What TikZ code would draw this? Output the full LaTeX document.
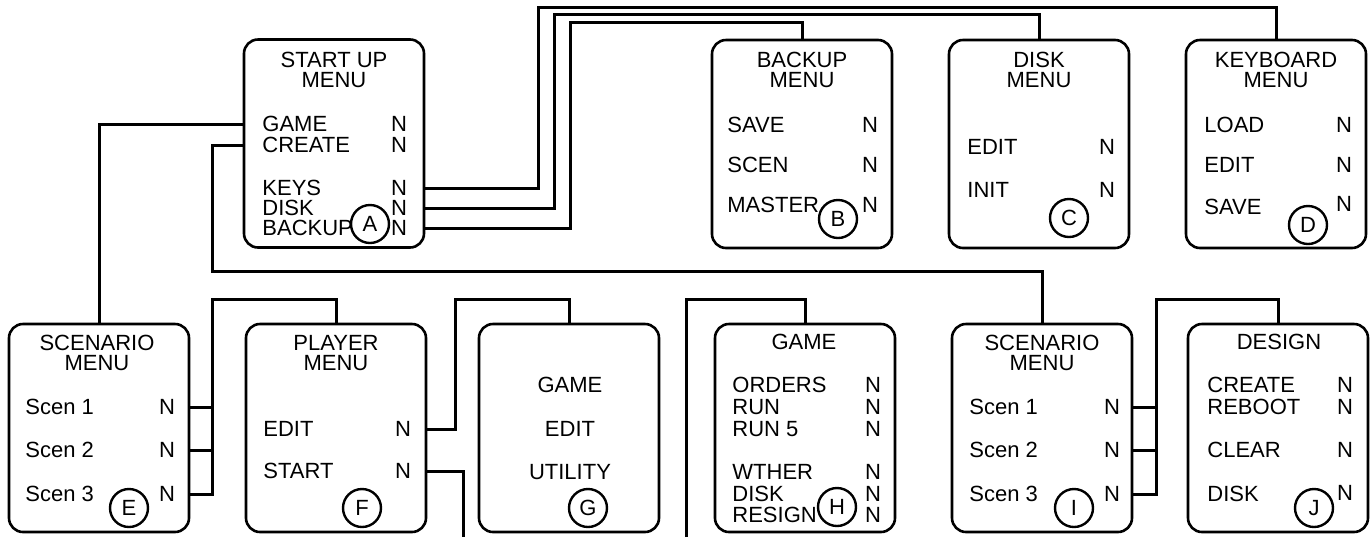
\documentclass[tikz,border=0pt]{standalone}
\usepackage{fontspec}
\setmainfont{Liberation Sans}
\begin{document}
\begin{tikzpicture}[x=0.5pt,y=-0.5pt,
  menubox/.style={draw, line width=1.3pt, rounded corners=7pt, minimum width=90pt, minimum height=104pt, inner sep=0pt},
  item/.style={anchor=west, inner sep=0pt, text height=7.8pt, text depth=0pt, font=\fontsize{11}{13}\selectfont},
  nval/.style={item, anchor=center},
  ttl/.style={item, anchor=center},
  tag/.style={draw, circle, line width=1.2pt, minimum size=19pt, inner sep=0pt, font=\fontsize{11}{13}\selectfont},
  wire/.style={line width=1.5pt}]
\useasboundingbox (0,0) rectangle (1372,537);

% ---------- top row ----------
\node[menubox] (A) at (334,143.5) {};
\node[ttl] (At1) at (334,60) {START UP};
\node[ttl] (At2) at (334,80) {MENU};
\node[item] (Ag) at (262,124) {GAME};   \node[nval] (AgN) at (399,124) {N};
\node[item] (Ac) at (262,145) {CREATE}; \node[nval] (AcN) at (399,145) {N};
\node[item] (Ak) at (262,188) {KEYS};   \node[nval] (AkN) at (399,188) {N};
\node[item] (Ad) at (262,208) {DISK};   \node[nval] (AdN) at (399,208) {N};
\node[item] (Ab) at (262,228) {BACKUP}; \node[nval] (AbN) at (399,228) {N};
\node[tag] (tA) at (370,224) {A};

\node[menubox] (B) at (802,144) {};
\node[ttl] (Bt1) at (802,60) {BACKUP};
\node[ttl] (Bt2) at (802,80) {MENU};
\node[item] (B1) at (727,125) {SAVE};   \node[nval] (B1N) at (870,125) {N};
\node[item] (B2) at (727,165) {SCEN};   \node[nval] (B2N) at (870,165) {N};
\node[item] (B3) at (727,205) {MASTER}; \node[nval] (B3N) at (870,205) {N};
\node[tag] (tB) at (838,219) {B};

\node[menubox] (C) at (1039,144) {};
\node[ttl] (Ct1) at (1039,60) {DISK};
\node[ttl] (Ct2) at (1039,80) {MENU};
\node[item] (C1) at (967,147) {EDIT}; \node[nval] (C1N) at (1107,147) {N};
\node[item] (C2) at (967,190) {INIT}; \node[nval] (C2N) at (1107,190) {N};
\node[tag] (tC) at (1069,218) {C};

\node[menubox] (D) at (1276,144) {};
\node[ttl] (Dt1) at (1276,60) {KEYBOARD};
\node[ttl] (Dt2) at (1276,80) {MENU};
\node[item] (D1) at (1204,125) {LOAD}; \node[nval] (D1N) at (1344,125) {N};
\node[item] (D2) at (1204,165) {EDIT}; \node[nval] (D2N) at (1344,165) {N};
\node[item] (D3) at (1204,207) {SAVE}; \node[nval] (D3N) at (1344,204) {N};
\node[tag] (tD) at (1308,225) {D};

% ---------- bottom row ----------
\node[menubox] (E) at (99,428) {};
\node[ttl] (Et1) at (97,343) {SCENARIO};
\node[ttl] (Et2) at (97,363) {MENU};
\node[item] (E1) at (25,407) {Scen 1}; \node[nval] (E1N) at (167,407) {N};
\node[item] (E2) at (25,450) {Scen 2}; \node[nval] (E2N) at (167,450) {N};
\node[item] (E3) at (25,494) {Scen 3}; \node[nval] (E3N) at (167,494) {N};
\node[tag] (tE) at (129,508) {E};

\node[menubox] (F) at (336,428) {};
\node[ttl] (Ft1) at (336,343) {PLAYER};
\node[ttl] (Ft2) at (336,363) {MENU};
\node[item] (F1) at (263,429) {EDIT};  \node[nval] (F1N) at (403,429) {N};
\node[item] (F2) at (263,471) {START}; \node[nval] (F2N) at (403,471) {N};
\node[tag] (tF) at (362,508) {F};

\node[menubox] (G) at (569,428) {};
\node[ttl] (G1) at (570,385) {GAME};
\node[ttl] (G2) at (570,429) {EDIT};
\node[ttl] (G3) at (570,472) {UTILITY};
\node[tag] (tG) at (588,508) {G};

\node[menubox] (H) at (805,428) {};
\node[ttl] (Ht1) at (804,342) {GAME};
\node[item] (H1) at (732,385) {ORDERS}; \node[nval] (H1N) at (873,385) {N};
\node[item] (H2) at (732,407) {RUN};    \node[nval] (H2N) at (873,407) {N};
\node[item] (H3) at (732,429) {RUN 5};  \node[nval] (H3N) at (873,429) {N};
\node[item] (H4) at (732,472) {WTHER};  \node[nval] (H4N) at (873,472) {N};
\node[item] (H5) at (732,494) {DISK};   \node[nval] (H5N) at (873,494) {N};
\node[item] (H6) at (732,515) {RESIGN}; \node[nval] (H6N) at (873,515) {N};
\node[tag] (tH) at (837,507) {H};

\node[menubox] (I) at (1042,428) {};
\node[ttl] (It1) at (1042,343) {SCENARIO};
\node[ttl] (It2) at (1042,363) {MENU};
\node[item] (I1) at (969,407) {Scen 1}; \node[nval] (I1N) at (1112,407) {N};
\node[item] (I2) at (969,450) {Scen 2}; \node[nval] (I2N) at (1112,450) {N};
\node[item] (I3) at (969,494) {Scen 3}; \node[nval] (I3N) at (1112,494) {N};
\node[tag] (tI) at (1074,508) {I};

\node[menubox] (J) at (1278,428) {};
\node[ttl] (Jt1) at (1279,342) {DESIGN};
\node[item] (J1) at (1207,385) {CREATE}; \node[nval] (J1N) at (1345,385) {N};
\node[item] (J2) at (1207,407) {REBOOT}; \node[nval] (J2N) at (1345,407) {N};
\node[item] (J3) at (1207,450) {CLEAR};  \node[nval] (J3N) at (1345,450) {N};
\node[item] (J4) at (1207,494) {DISK};   \node[nval] (J4N) at (1345,493) {N};
\node[tag] (tJ) at (1314,508) {J};

% ---------- turning points ----------
\coordinate (kTurn) at (538,7);
\coordinate (dTurn) at (554,14);
\coordinate (bTurn) at (570,22);
\coordinate (cTurn) at (212,271);
\coordinate (eTurn) at (212,299);
\coordinate (fTurn) at (455,299);
\coordinate (fEnd)  at (463,537);
\coordinate (hStart) at (686,537);
\coordinate (hTurn) at (686,299);
\coordinate (iTurn) at (1156,299);

% ---------- connectors ----------
\draw[wire] (A.east |- AkN) -| (kTurn) -| (D.north);
\draw[wire] (A.east |- AdN) -| (dTurn) -| (C.north);
\draw[wire] (A.east |- AbN) -| (bTurn) -| (B.north);
\draw[wire] (A.west |- Ag) -| (E.north);
\draw[wire] (A.west |- Ac) -| (cTurn) -| (I.north);

\draw[wire] (E.east |- E3N) -| (eTurn) -| (F.north);
\draw[wire] (E.east |- E1N) -- (eTurn |- E1N);
\draw[wire] (E.east |- E2N) -- (eTurn |- E2N);

\draw[wire] (F.east |- F1N) -| (fTurn) -| (G.north);
\draw[wire] (F.east |- F2N) -| (fEnd);
\draw[wire] (hStart) -- (hTurn) -| (H.north);

\draw[wire] (I.east |- I3N) -| (iTurn) -| (J.north);
\draw[wire] (I.east |- I1N) -- (iTurn |- I1N);
\draw[wire] (I.east |- I2N) -- (iTurn |- I2N);
\end{tikzpicture}
\end{document}
